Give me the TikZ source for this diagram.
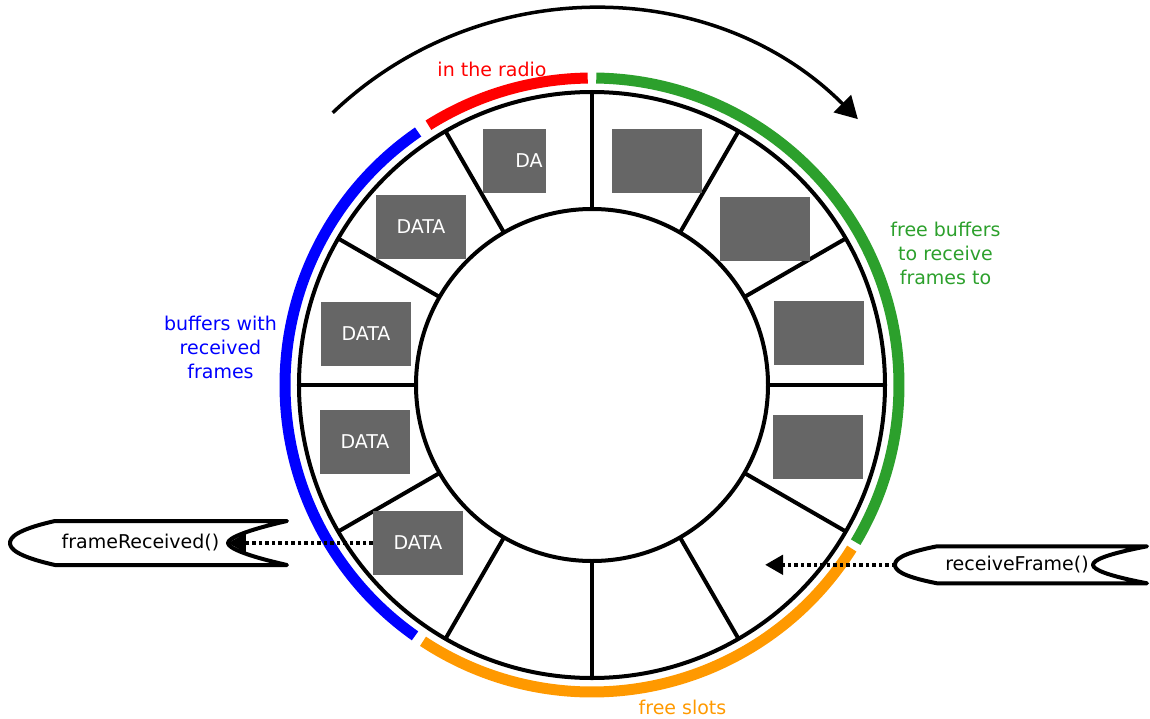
\documentclass[tikz,border=0pt]{standalone}
\usepackage{fontspec}
\setmainfont{DejaVu Sans}
\usetikzlibrary{arrows.meta}
\definecolor{radiored}{RGB}{255,0,0}
\definecolor{freegreen}{RGB}{44,160,44}
\definecolor{slotorange}{RGB}{255,153,0}
\definecolor{rxblue}{RGB}{0,0,255}
\definecolor{bufgray}{RGB}{102,102,102}
\begin{document}
\begin{tikzpicture}[x=1pt,y=1pt,
        ring/.style={line width=4pt},
        band/.style={line width=11pt},
        buffer/.style={fill=bufgray,minimum width=90pt,minimum height=64pt,inner sep=0pt,
                       text=white,font=\fontsize{19}{24}\selectfont},
        tag/.style={font=\fontsize{19}{24}\selectfont,align=center},
        signal/.style={line width=4pt,fill=white,line join=round},
        callarrow/.style={line width=4.5pt,dash pattern=on 3.5pt off 3pt,
                          -{Triangle[length=18pt,width=19pt]}}]
        				\useasboundingbox (-592,-333) rectangle (558,385);
        				% Direction of the ring
        				\draw[line width=3.5pt,-{Triangle[length=22pt,width=24pt]}] (133.6:376) arc (133.6:45:376);
        				% Ring of twelve slots
        				\draw[ring] (0,0) circle (293);
        				\draw[ring] (0,0) circle (176);
        				\foreach \a in {0,30,...,330}
        					\draw[ring] (\a:176) -- (\a:293);
        				% Coloured bands outside the ring
        				\draw[band,radiored]   (122.2:307) arc (122.2:90.8:307);
        				\draw[band,freegreen]  (89.2:307) arc (89.2:-30.8:307);
        				\draw[band,slotorange] (-32.2:307) arc (-32.2:-123.4:307);
        				\draw[band,rxblue]     (-125.2:307) arc (-125.2:-235.5:307);
        				% Buffers held in the slots
        				\node[buffer,minimum width=63pt] (slot3) at (-77.5,224) {};
        				\node[tag,text=white] (slot3-text) at (-63,224) {DA};
        				\node[buffer] (slot2)  at (65,224) {};
        				\node[buffer] (slot1)  at (173,156) {};
        				\node[buffer] (slot0)  at (227,52) {};
        				\node[buffer] (slot11) at (226,-62) {};
        				\node[buffer] (slot4)  at (-171,158) {DATA};
        				\node[buffer] (slot5)  at (-226,51) {DATA};
        				\node[buffer] (slot6)  at (-227,-57) {DATA};
        				\node[buffer] (slot7)  at (-174,-158) {DATA};
        				% Band labels
        				\node[tag,text=radiored]   (radio-label) at (-100,315.5) {in the radio};
        				\node[tag,text=freegreen]  (free-label)  at (353.5,132) {free buffers\\to receive\\frames to};
        				\node[tag,text=rxblue]     (rx-label)    at (-371.5,38) {buffers with\\received\\frames};
        				\node[tag,text=slotorange] (slot-label)  at (90.5,-322) {free slots};
        				% frameReceived() signal on the left
        				\draw[signal] (-537,-136) -- (-305,-136)
        					.. controls (-345,-145) and (-364,-153) .. (-364,-158)
        					.. controls (-364,-163) and (-345,-171) .. (-305,-180)
        					-- (-537,-180)
        					.. controls (-577,-171) and (-582,-163) .. (-582,-158)
        					.. controls (-582,-153) and (-577,-145) .. (-537,-136) -- cycle;
        				\node[tag] (frame-received) at (-451.5,-158) {frameReceived()};
        				\coordinate (rcvd-notch) at (-364,-158);
        				% receiveFrame() signal on the right
        				\draw[signal] (345,-161.3) -- (555,-161.3)
        					.. controls (515,-169) and (501,-175) .. (501,-179.8)
        					.. controls (501,-184.6) and (515,-190.6) .. (555,-198.3)
        					-- (345,-198.3)
        					.. controls (308,-191) and (303,-184.6) .. (303,-179.8)
        					.. controls (303,-175) and (308,-168.6) .. (345,-161.3) -- cycle;
        				\node[tag] (receive-frame) at (425,-180) {receiveFrame()};
        				\coordinate (recv-tip) at (303,-179.8);
        				\coordinate (slot10) at (173,-179.8);
        				% Calls between the ring and the signals
        				\draw[callarrow] (slot7.west) -- (rcvd-notch);
        				\draw[callarrow] (recv-tip) -- (slot10);
    			\end{tikzpicture}
\end{document}
